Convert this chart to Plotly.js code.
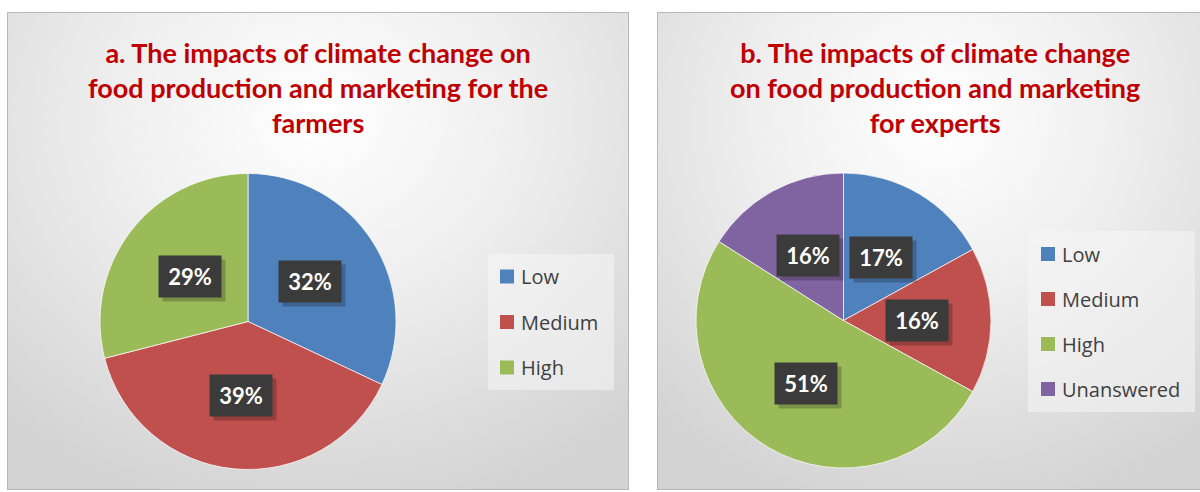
<!DOCTYPE html>
<html>
<head>
<meta charset="utf-8">
<script src="https://cdn.plot.ly/plotly-3.0.1.min.js"></script>
<style>
  html, body { margin: 0; padding: 0; background: #ffffff; width: 1200px; height: 492px; overflow: hidden; }
  .panel {
    position: absolute;
    border: 1px solid #b8b8b8;
    background: radial-gradient(ellipse 75% 85% at 50% 22%, #ffffff 0%, #eeeeee 45%, #d3d3d3 100%);
  }
  #panelA { left: 7px; top: 12px; width: 620px; height: 476px; }
  #panelB { left: 657px; top: 12px; width: 560px; height: 476px; }
</style>
</head>
<body>
<div class="panel" id="panelA"><div id="chartA"></div></div>
<div class="panel" id="panelB"><div id="chartB"></div></div>
<script>
// data
const farmerLabels = ['Low', 'Medium', 'High'];
const farmerValues = [32, 39, 29];
const expertLabels = ['Low', 'Medium', 'High', 'Unanswered'];
const expertValues = [17, 16, 51, 16];

const farmerTitle = ['a. The impacts of climate change on', 'food production and marketing for the', 'farmers'];
const expertTitle = ['b. The impacts of climate change', 'on food production and marketing', 'for experts'];

const sliceColors = {Low: '#4F81BD', Medium: '#C0504D', High: '#9BBB59', Unanswered: '#8064A2'};

function drawPanel(divId, W, H, labels, values, titleLines, g) {
  const px = x => x / W;
  const py = y => 1 - y / H;

  const trace = {
    type: 'pie',
    labels: labels,
    values: values,
    sort: false,
    direction: 'clockwise',
    rotation: 0,
    textinfo: 'none',
    hoverinfo: 'label+percent',
    showlegend: false,
    marker: { colors: labels.map(l => sliceColors[l]), line: { color: 'rgba(255,255,255,0.7)', width: 1 } },
    domain: { x: [px(g.cx - g.r), px(g.cx + g.r)], y: [py(g.cy + g.r), py(g.cy - g.r)] }
  };

  const annotations = [];
  const shapes = [];

  // title
  annotations.push({
    xref: 'paper', yref: 'paper', x: px(g.titleX), y: py(g.titleY),
    xanchor: 'center', yanchor: 'middle', showarrow: false,
    text: titleLines.map(t => '<b>' + t + '</b>').join('<br>'),
    font: { family: 'Lato, sans-serif', size: 27, color: '#C00000' }
  });

  // data labels in dark boxes, halfway out along each slice's middle angle
  const total = values.reduce((a, b) => a + b, 0);
  let cum = 0;
  values.forEach(v => {
    const mid = (cum + v / 2) / total * 2 * Math.PI;
    cum += v;
    const lx = g.cx + 0.5 * g.r * Math.sin(mid);
    const ly = g.cy - 0.5 * g.r * Math.cos(mid);
    // soft drop shadow behind the box
    annotations.push({
      xref: 'paper', yref: 'paper', x: px(lx), y: py(ly), xshift: 4, yshift: -4,
      xanchor: 'center', yanchor: 'middle',
      showarrow: false, text: '&nbsp;', width: 50, height: 29, borderpad: 6,
      bgcolor: 'rgba(0,0,0,0.22)', font: { family: 'Lato, sans-serif', size: 22 }
    });
    annotations.push({
      xref: 'paper', yref: 'paper', x: px(lx), y: py(ly),
      xanchor: 'center', yanchor: 'middle',
      showarrow: false, text: '<b>' + v + '%</b>', width: 50, height: 29, borderpad: 6,
      bgcolor: '#3b3b3b', font: { family: 'Lato, sans-serif', size: 22, color: '#ffffff' }
    });
  });

  // legend, laid out by hand to keep Excel's wide row spacing
  shapes.push({
    type: 'rect', xref: 'paper', yref: 'paper', layer: 'below',
    x0: px(g.legX0), x1: px(g.legX1), y0: py(g.legY1), y1: py(g.legY0),
    fillcolor: 'rgba(245,245,245,0.55)', line: { width: 0 }
  });
  labels.forEach((l, i) => {
    const yc = g.legItemY0 + i * g.legStep;
    shapes.push({
      type: 'rect', xref: 'paper', yref: 'paper',
      x0: px(g.legSqX), x1: px(g.legSqX + 14), y0: py(yc + 7), y1: py(yc - 7),
      fillcolor: sliceColors[l], line: { width: 0 }
    });
    annotations.push({
      xref: 'paper', yref: 'paper', x: px(g.legSqX + 19), y: py(yc),
      xanchor: 'left', yanchor: 'middle', showarrow: false, text: l,
      font: { family: '"Open Sans", sans-serif', size: 20, color: '#404040' }
    });
  });

  const layout = {
    width: W, height: H,
    margin: { l: 0, r: 0, t: 0, b: 0 },
    paper_bgcolor: 'rgba(0,0,0,0)',
    plot_bgcolor: 'rgba(0,0,0,0)',
    showlegend: false,
    annotations: annotations,
    shapes: shapes
  };

  Plotly.newPlot(divId, [trace], layout, { displayModeBar: false });
}

drawPanel('chartA', 620, 476, farmerLabels, farmerValues, farmerTitle, {
  cx: 240, cy: 308.5, r: 148, titleX: 310, titleY: 74,
  legX0: 480, legX1: 606, legY0: 241, legY1: 377,
  legSqX: 492, legItemY0: 263.5, legStep: 45.5
});

drawPanel('chartB', 560, 476, expertLabels, expertValues, expertTitle, {
  cx: 185.5, cy: 307.5, r: 147.5, titleX: 277, titleY: 74,
  legX0: 370, legX1: 537, legY0: 218, legY1: 399,
  legSqX: 383, legItemY0: 241, legStep: 45
});
</script>
</body>
</html>
